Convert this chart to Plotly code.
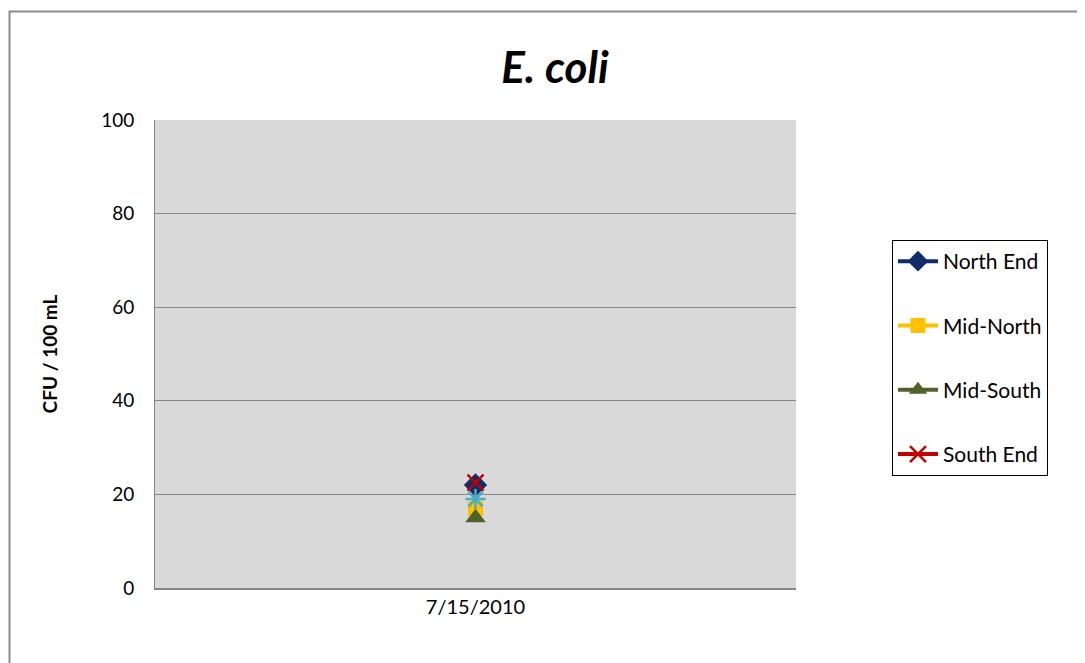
import plotly.graph_objects as go

categories = ["7/15/2010"]
north_end = [22]
mid_north = [17]
mid_south = [15]
south_end = [22.5]
extra_site = [19]

series_names = ["North End", "Mid-North", "Mid-South", "South End"]
y_ticks = [0, 20, 40, 60, 80, 100]

W, H = 1085, 663
OFF = 8  # page body margin
L, R, T, B = 155 - OFF, 289 + OFF, 120 - OFF, 75 + OFF
pw, ph = W - L - R, H - T - B
PB = H - B  # plot bottom in figure px

FONT = "Lato"

fig = go.Figure()

styles = [
    (north_end, "North End", "#0F2D69", "diamond", 18, None),
    (mid_north, "Mid-North", "#FFC000", "square", 15, None),
    (mid_south, "Mid-South", "#4F6228", "triangle-up", 18, None),
    (south_end, "South End", "#C00000", "x-thin-open", 16, 2.5),
]
for i, (vals, name, col, sym, sz, lw) in enumerate(styles):
    mk = dict(symbol=sym, size=sz, color=col)
    if lw:
        mk["line"] = dict(color=col, width=lw)
    fig.add_trace(go.Scatter(
        x=categories, y=vals, name=name, mode="lines+markers",
        line=dict(color=col, width=4), marker=mk,
        legendgroup=f"g{i}",
    ))

fig.add_trace(go.Scatter(
    x=categories, y=extra_site, name="", mode="markers", showlegend=False,
    marker=dict(symbol="asterisk-open", size=17, color="#4BACC6",
                line=dict(color="#4BACC6", width=2.5)),
))

fig.update_layout(
    width=W, height=H,
    margin=dict(l=L, r=R, t=T, b=B),
    paper_bgcolor="white",
    plot_bgcolor="#D9D9D9",
    font=dict(family=FONT, size=18, color="black"),
    title=dict(text="<b><i>E. coli</i></b>", x=(555 - OFF) / W, xanchor="center",
               y=1 - (68 - OFF) / H, yanchor="middle",
               font=dict(family=FONT, size=44, color="black")),
    xaxis=dict(type="category", range=[-0.5, 0.5], showgrid=False,
               showline=True, linecolor="#868686", linewidth=2,
               ticks="", tickfont=dict(size=20), fixedrange=True),
    yaxis=dict(range=[0, 100], tickvals=y_ticks, showgrid=True,
               gridcolor="#868686", gridwidth=1, zeroline=False,
               showline=True, linecolor="#868686", linewidth=1,
               ticks="", ticklabelstandoff=16, tickfont=dict(size=19),
               title=dict(text="<b>CFU / 100 mL</b>", standoff=38,
                          font=dict(size=19))),
    legend=dict(x=(892 - OFF - L) / pw, y=(PB - (240 - OFF)) / ph, xanchor="left",
                yanchor="top", bordercolor="black", borderwidth=1,
                bgcolor="white", tracegroupgap=34,
                font=dict(size=21), itemwidth=40),
    showlegend=True,
)

# outer chart border
fig.add_shape(type="rect", xref="paper", yref="paper",
              x0=(1.5 - L) / pw, x1=(W + 10 - L) / pw,
              y0=(PB - (H + 10)) / ph, y1=(PB - (11.5 - OFF)) / ph,
              line=dict(color="#8C8C8C", width=2), layer="below")

fig.write_html("out.html")
